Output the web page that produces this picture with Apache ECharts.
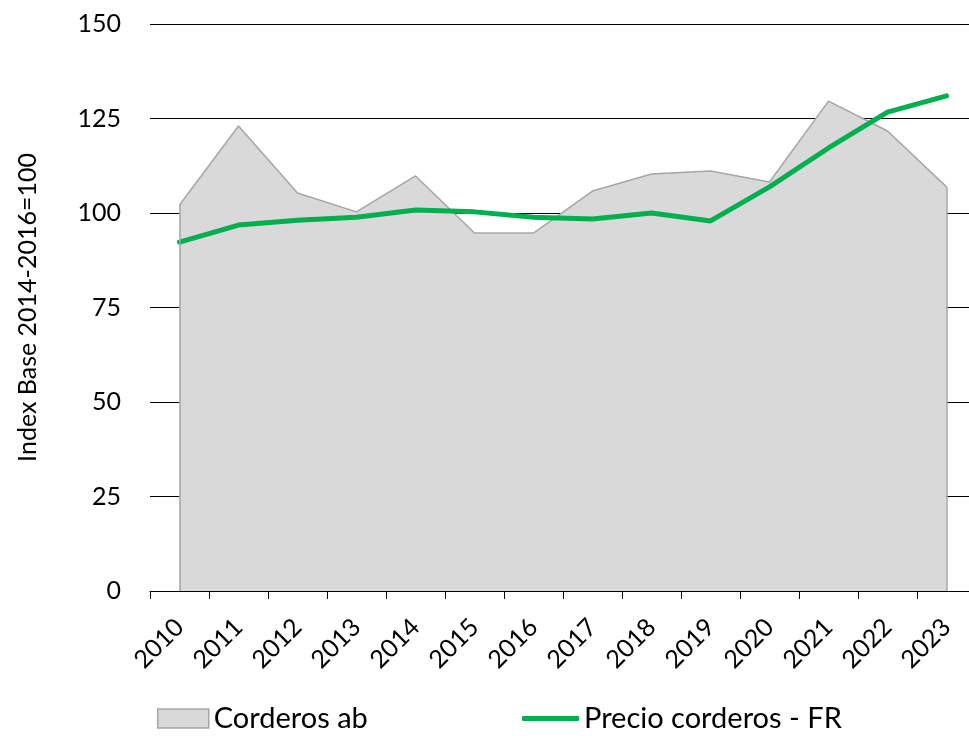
<!DOCTYPE html>
<html>
<head>
<meta charset="utf-8">
<script src="https://cdn.jsdelivr.net/npm/echarts@6/dist/echarts.min.js"></script>
<style>
  html, body { margin: 0; padding: 0; background: #fff; overflow: hidden; }
  #chart { width: 976px; height: 736px; }
</style>
</head>
<body>
<div id="chart"></div>
<script>
// datos
const years = ['2010', '2011', '2012', '2013', '2014', '2015', '2016', '2017', '2018', '2019', '2020', '2021', '2022', '2023'];
const corderosAb = [102.1, 123.0, 105.3, 100.3, 109.8, 94.7, 94.7, 105.8, 110.3, 111.1, 108.2, 129.6, 121.7, 106.9];
const precioFR = [92.3, 96.8, 98.1, 98.9, 100.8, 100.3, 98.9, 98.4, 100.0, 97.9, 106.9, 117.2, 126.7, 131.0];
const yTicks = [0, 25, 50, 75, 100, 125, 150];

const FONT = 'Lato';
const chart = echarts.init(document.getElementById('chart'), null, { renderer: 'canvas' });

const option = {
  animation: false,
  textStyle: { fontFamily: FONT, color: '#000' },
  // el grafico original esta recortado por la derecha
  grid: { left: 150, right: 0, top: 24, bottom: 145 },
  legend: [
    {
      data: ['Corderos ab'],
      left: 157, top: 704,
      padding: 0,
      itemWidth: 51, itemHeight: 19, itemGap: 8,
      icon: 'rect',
      itemStyle: { borderColor: '#a6a6a6', borderWidth: 1.5 },
      textStyle: { fontFamily: FONT, fontSize: 29, color: '#000' }
    },
    {
      data: ['Precio corderos - FR'],
      left: 522, top: 704,
      padding: 0,
      itemWidth: 57, itemHeight: 5, itemGap: 5,
      icon: 'roundRect',
      textStyle: { fontFamily: FONT, fontSize: 29, color: '#000' }
    }
  ],
  xAxis: {
    type: 'category',
    data: years,
    boundaryGap: true,
    axisLine: { lineStyle: { color: '#000', width: 1 } },
    axisTick: { show: true, length: 8, lineStyle: { color: '#000' } },
    axisLabel: { rotate: 45, margin: 32, fontSize: 25, color: '#000', fontFamily: FONT }
  },
  yAxis: {
    type: 'value',
    min: yTicks[0],
    max: yTicks[yTicks.length - 1],
    interval: 25,
    name: 'Index Base 2014-2016=100',
    nameLocation: 'middle',
    nameRotate: 90,
    nameGap: 110,
    nameTextStyle: { fontFamily: FONT, fontSize: 25, color: '#000' },
    axisLine: { show: false },
    axisTick: { show: false },
    axisLabel: { margin: 29, fontSize: 25, color: '#000', fontFamily: FONT },
    splitLine: { lineStyle: { color: '#000', width: 1 } }
  },
  series: [
    {
      name: 'Corderos ab',
      type: 'line',
      data: corderosAb,
      symbol: 'none',
      itemStyle: { color: '#d9d9d9', borderColor: '#a6a6a6' },
      lineStyle: { color: '#a6a6a6', width: 1.5 },
      areaStyle: { color: '#d9d9d9', opacity: 1 },
      markLine: {
        silent: true,
        symbol: 'none',
        label: { show: false },
        lineStyle: { color: '#a6a6a6', width: 1.5, type: 'solid' },
        data: [
          [{ coord: [years[0], 0] }, { coord: [years[0], corderosAb[0]] }],
          [{ coord: [years[years.length - 1], 0] }, { coord: [years[years.length - 1], corderosAb[corderosAb.length - 1]] }]
        ]
      },
      z: 1
    },
    {
      name: 'Precio corderos - FR',
      type: 'line',
      data: precioFR,
      symbol: 'none',
      itemStyle: { color: '#00b050' },
      lineStyle: { color: '#00b050', width: 5, cap: 'round' },
      z: 3
    }
  ]
};

chart.setOption(option);
</script>
</body>
</html>
